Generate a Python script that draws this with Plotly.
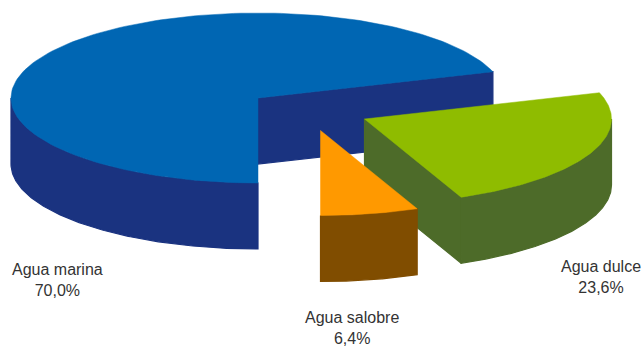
import numpy as np
import plotly.graph_objects as go

W, H = 644, 347

# Data
categories = ["Agua marina", "Agua salobre", "Agua dulce"]
values = [70.0, 6.4, 23.6]

# Styling / layout
top_colors = ["#0066B3", "#FF9900", "#8FBC00"]
side_colors = ["#1A3380", "#804D00", "#4D6B29"]
centers = [(258, 98), (320.5, 130.5), (364.5, 119)]
label_pos = [(57, 280), (352, 328), (601, 277)]
start_deg = 18
RX, RY, DEPTH = 247, 85, 66


def arc(c, a0, a1, dy=0, n=160):
    t = np.radians(np.linspace(a0, a1, n))
    return c[0] + RX * np.cos(t), c[1] - RY * np.sin(t) + dy


def poly(fig, x, y, color, lw=0.5):
    fig.add_trace(go.Scatter(
        x=list(x) + [x[0]], y=list(y) + [y[0]], mode="lines", fill="toself",
        fillcolor=color, line=dict(color=color, width=lw),
        hoverinfo="skip", showlegend=False))


def wall(fig, c, a0, a1, color):
    x0, y0 = arc(c, a0, a1)
    x1, y1 = arc(c, a1, a0, DEPTH)
    poly(fig, np.r_[x0, x1], np.r_[y0, y1], color, lw=1.2)


def radial_face(fig, c, a, color):
    xe, ye = arc(c, a, a, n=1)
    poly(fig, [c[0], xe[0], xe[0], c[0]],
         [c[1], ye[0], ye[0] + DEPTH, c[1] + DEPTH], color, lw=1.2)


def top(fig, c, a0, a1, color):
    x, y = arc(c, a0, a1)
    poly(fig, np.r_[c[0], x], np.r_[c[1], y], color)


# Slice angles (counter-clockwise from the start angle)
angles = [start_deg]
for v in values:
    angles.append(angles[-1] + v / sum(values) * 360)

fig = go.Figure()

# Blue slice
a0, a1 = angles[0], angles[1]
radial_face(fig, centers[0], a0, side_colors[0])
wall(fig, centers[0], 180, a1, side_colors[0])
top(fig, centers[0], a0, a1, top_colors[0])

# Green slice
a0, a1 = angles[2], angles[3]
radial_face(fig, centers[2], a0, side_colors[2])
wall(fig, centers[2], a0, 360, side_colors[2])
top(fig, centers[2], a0, a1, top_colors[2])

# Orange slice
a0, a1 = angles[1], angles[2]
wall(fig, centers[1], a0, a1, side_colors[1])
top(fig, centers[1], a0, a1, top_colors[1])

for name, v, (x, y) in zip(categories, values, label_pos):
    fig.add_annotation(
        x=x, y=y, xref="x", yref="y", showarrow=False, align="center",
        text=f"{name}<br>{v:.1f}".replace(".", ",") + "%",
        font=dict(family="Liberation Sans", size=16, color="#333333"))

fig.update_xaxes(range=[0, W], visible=False, fixedrange=True)
fig.update_yaxes(range=[H, 0], visible=False, fixedrange=True)
fig.update_layout(width=W, height=H, margin=dict(l=0, r=0, t=0, b=0),
                  paper_bgcolor="white", plot_bgcolor="white", showlegend=False)

fig.write_html("out.html", config={"displayModeBar": False},
               post_script="document.body.style.margin='0';document.documentElement.style.overflow='hidden';")
